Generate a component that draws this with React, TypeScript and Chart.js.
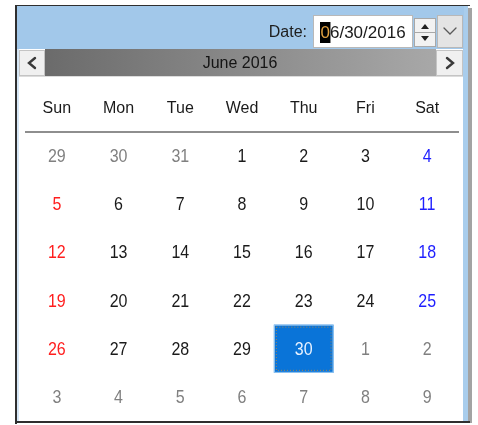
import React, { useEffect, useRef } from "react";
import { Chart, registerables } from "chart.js";

Chart.register(...registerables);

const WEEKDAYS = ["Sun", "Mon", "Tue", "Wed", "Thu", "Fri", "Sat"];
const WEEK_1 = [29, 30, 31, 1, 2, 3, 4];
const WEEK_2 = [5, 6, 7, 8, 9, 10, 11];
const WEEK_3 = [12, 13, 14, 15, 16, 17, 18];
const WEEK_4 = [19, 20, 21, 22, 23, 24, 25];
const WEEK_5 = [26, 27, 28, 29, 30, 1, 2];
const WEEK_6 = [3, 4, 5, 6, 7, 8, 9];
const WEEKS = [WEEK_1, WEEK_2, WEEK_3, WEEK_4, WEEK_5, WEEK_6];
const MONTH_TITLE = "June 2016";
const DATE_LABEL = "Date:";
const DATE_VALUE = "06/30/2016";
const SELECTED_DAY = 30;

const W = 478;
const H = 425;
const FONT = '"Liberation Sans", Arial, sans-serif';

type Cell = { x: string; y: number; day: number; inMonth: boolean };

function buildCells(): Cell[] {
  const cells: Cell[] = [];
  WEEKS.forEach((week, r) => {
    week.forEach((day, c) => {
      const inMonth = !((r === 0 && day > 20) || (r >= 4 && day < 15));
      cells.push({ x: WEEKDAYS[c], y: r, day, inMonth });
    });
  });
  return cells;
}

function drawButton(ctx: CanvasRenderingContext2D, x: number, y: number, w: number, h: number, fill: string) {
  ctx.fillStyle = fill;
  ctx.fillRect(x, y, w, h);
  ctx.strokeStyle = "#c4c4c4";
  ctx.lineWidth = 1;
  ctx.strokeRect(x + 0.5, y + 0.5, w - 1, h - 1);
}

const framePlugin = {
  id: "calendarFrame",
  beforeDraw(chart: any) {
    const ctx: CanvasRenderingContext2D = chart.ctx;
    ctx.save();
    ctx.fillStyle = "#ffffff";
    ctx.fillRect(0, 0, W, H);
    // shadow and borders
    ctx.fillStyle = "#a3a3a3";
    ctx.fillRect(468, 8, 4, 415);
    ctx.fillStyle = "#a9cdec";
    ctx.fillRect(463, 6, 5, 416);
    ctx.fillStyle = "#d6e7f6";
    ctx.fillRect(17, 6, 2, 416);
    // header
    ctx.fillStyle = "#a2c8ea";
    ctx.fillRect(17, 6, 447, 43);
    // dark frame
    ctx.fillStyle = "#2f2f2f";
    ctx.fillRect(15, 5, 2, 419);
    ctx.fillRect(15, 5, 455, 1);
    ctx.fillRect(15, 421, 455, 2);

    // month bar
    const g = ctx.createLinearGradient(45, 0, 436, 0);
    g.addColorStop(0, "#6b6b6b");
    g.addColorStop(1, "#a8a8a8");
    ctx.fillStyle = g;
    ctx.fillRect(45, 49, 391, 28);
    ctx.fillStyle = "#dcdcdc";
    ctx.fillRect(19, 76, 444, 1);
    drawButton(ctx, 19, 50, 26, 26, "#f0f0f0");
    drawButton(ctx, 436, 50, 27, 26, "#f0f0f0");
    ctx.strokeStyle = "#3a3a3a";
    ctx.lineWidth = 2.4;
    ctx.lineCap = "round";
    ctx.beginPath();
    ctx.moveTo(35, 58);
    ctx.lineTo(29, 63);
    ctx.lineTo(35, 68);
    ctx.stroke();
    ctx.beginPath();
    ctx.moveTo(447, 58);
    ctx.lineTo(453, 63);
    ctx.lineTo(447, 68);
    ctx.stroke();

    ctx.fillStyle = "#141414";
    ctx.font = `16px ${FONT}`;
    ctx.textAlign = "center";
    ctx.textBaseline = "middle";
    ctx.fillText(MONTH_TITLE, 240, 64);

    // date field
    ctx.textAlign = "right";
    ctx.fillStyle = "#1e1e1e";
    ctx.font = `16px ${FONT}`;
    ctx.fillText(DATE_LABEL, 307, 33);

    ctx.fillStyle = "#ffffff";
    ctx.fillRect(313, 15, 100, 33);
    ctx.strokeStyle = "#b8b8b8";
    ctx.lineWidth = 1;
    ctx.strokeRect(313.5, 15.5, 99, 32);

    ctx.font = `17px ${FONT}`;
    ctx.textAlign = "left";
    const first = DATE_VALUE.slice(0, 1);
    const rest = DATE_VALUE.slice(1);
    const fw = ctx.measureText(first).width;
    ctx.fillStyle = "#000000";
    ctx.fillRect(320, 22, fw + 1, 21);
    ctx.fillStyle = "#e0a040";
    ctx.fillText(first, 320.5, 33);
    ctx.fillStyle = "#1a1a1a";
    ctx.fillText(rest, 320.5 + fw, 33);

    // spin buttons
    ctx.fillStyle = "#f2f2f2";
    ctx.fillRect(414, 18, 22, 29);
    ctx.strokeStyle = "#a8a8a8";
    ctx.strokeRect(414.5, 18.5, 21, 28);
    ctx.beginPath();
    ctx.moveTo(415, 32.5);
    ctx.lineTo(435, 32.5);
    ctx.stroke();
    ctx.fillStyle = "#202020";
    ctx.beginPath();
    ctx.moveTo(421, 29);
    ctx.lineTo(429, 29);
    ctx.lineTo(425, 24);
    ctx.closePath();
    ctx.fill();
    ctx.beginPath();
    ctx.moveTo(421, 36);
    ctx.lineTo(429, 36);
    ctx.lineTo(425, 41);
    ctx.closePath();
    ctx.fill();

    // dropdown button
    ctx.fillStyle = "#e4e4e4";
    ctx.fillRect(437, 15, 26, 33);
    ctx.strokeStyle = "#b8b8b8";
    ctx.strokeRect(437.5, 15.5, 25, 32);
    ctx.strokeStyle = "#5a5a5a";
    ctx.lineWidth = 1.3;
    ctx.beginPath();
    ctx.moveTo(444, 28);
    ctx.lineTo(450, 34);
    ctx.lineTo(456, 28);
    ctx.stroke();
    ctx.restore();
  },
};

const dayLabelPlugin = {
  id: "dayLabels",
  afterDatasetsDraw(chart: any) {
    const ctx: CanvasRenderingContext2D = chart.ctx;
    const meta = chart.getDatasetMeta(0);
    const ds = chart.data.datasets[0].data as Cell[];
    const xs = chart.scales.x;
    const ys = chart.scales.y;
    const cw = xs.width / WEEKDAYS.length;
    const ch = Math.abs(ys.getPixelForValue(1) - ys.getPixelForValue(0));
    ctx.save();
    meta.data.forEach((pt: any, i: number) => {
      const cell = ds[i];
      const { x, y } = pt;
      const selected = cell.inMonth && cell.day === SELECTED_DAY;
      let color = "#1a1a1a";
      if (!cell.inMonth) color = "#808080";
      else if (cell.x === "Sun") color = "#ff1e1e";
      else if (cell.x === "Sat") color = "#1e1eff";
      if (selected) {
        const bw = cw - 2;
        const bh = ch;
        ctx.fillStyle = "#0a74d8";
        ctx.fillRect(x - bw / 2, y - bh / 2, bw, bh);
        ctx.strokeStyle = "#9ccbf2";
        ctx.lineWidth = 1;
        ctx.strokeRect(x - bw / 2 + 0.5, y - bh / 2 + 0.5, bw - 1, bh - 1);
        ctx.strokeStyle = "#a88650";
        ctx.setLineDash([1, 2]);
        ctx.strokeRect(x - bw / 2 + 2.5, y - bh / 2 + 2.5, bw - 5, bh - 5);
        ctx.setLineDash([]);
        color = "#e8f2ff";
      }
      ctx.fillStyle = color;
      ctx.font = `16px ${FONT}`;
      ctx.textAlign = "center";
      ctx.textBaseline = "middle";
      ctx.save();
      ctx.translate(x, y + 1);
      ctx.scale(1, 1.12);
      ctx.fillText(String(cell.day), 0, 0);
      ctx.restore();
    });
    ctx.restore();
  },
};

export default function App() {
  const ref = useRef<HTMLCanvasElement | null>(null);
  useEffect(() => {
    if (!ref.current) return;
    const cells = buildCells();
    const chart = new Chart(ref.current, {
      type: "scatter",
      data: {
        labels: WEEKDAYS,
        datasets: [
          {
            data: cells as any,
            pointRadius: 0,
            pointHoverRadius: 0,
            showLine: false,
          },
        ],
      },
      options: {
        animation: false,
        responsive: false,
        events: [],
        layout: { padding: { left: 26, right: 20, top: 83, bottom: 4 } },
        plugins: {
          legend: { display: false },
          tooltip: { enabled: false },
          title: { display: false },
        },
        scales: {
          x: {
            type: "category",
            labels: WEEKDAYS,
            position: "top",
            offset: true,
            afterFit: (scale: any) => {
              scale.height = 49;
            },
            grid: { display: false, drawTicks: false },
            border: { display: true, color: "#8e8e8e", width: 2 },
            ticks: {
              color: "#1a1a1a",
              font: { family: FONT, size: 16 },
              padding: 14,
              autoSkip: false,
              maxRotation: 0,
            },
          },
          y: {
            type: "linear",
            min: -0.5,
            max: 5.5,
            reverse: true,
            display: false,
          },
        },
      },
      plugins: [framePlugin, dayLabelPlugin],
    });
    return () => chart.destroy();
  }, []);
  return (
    <div style={{ position: "absolute", left: 0, top: 0, width: W, height: H, background: "#fff" }}>
      <canvas ref={ref} width={W} height={H} style={{ display: "block" }} />
    </div>
  );
}
